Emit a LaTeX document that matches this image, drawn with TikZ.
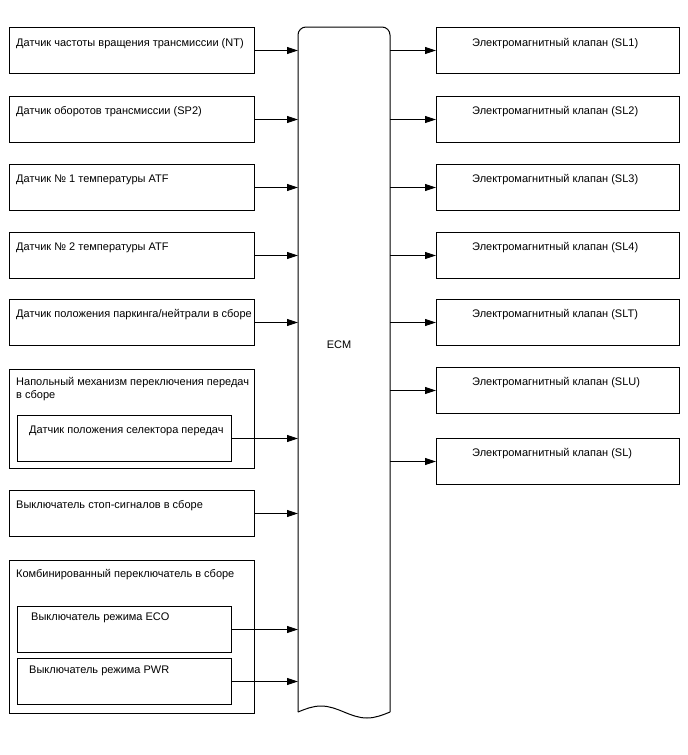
\documentclass[tikz,border=0pt]{standalone}
\usepackage{fontspec}
\setmainfont{Liberation Sans}
\usetikzlibrary{arrows.meta}
\begin{document}
\begin{tikzpicture}[x=1pt,y=-1pt,
  box/.style={draw, line width=1pt, inner sep=0pt, anchor=north west, minimum height=46pt},
  lbox/.style={box, minimum width=245pt},
  rbox/.style={box, minimum width=243pt},
  ibox/.style={box, minimum width=214pt},
  txt/.style={anchor=base west, inner sep=0pt, font=\fontsize{11pt}{12pt}\selectfont},
  arr/.style={draw, line width=1pt, -{Triangle[length=11pt,width=7pt]}}]
\useasboundingbox (0,0) rectangle (688,755);
% ECM
\node[inner sep=0pt, anchor=north west, minimum width=92pt, minimum height=685pt] (ecm) at (298,27) {};
\draw[line width=1pt, rounded corners=8pt] (298,712) -- (298,27) -- (390,27) -- (390,712);
\draw[line width=1pt] (298,712) sin (321,706) cos (344,712) sin (367,718) cos (390,712);
\node[txt, anchor=center] (ecmt) at (339,345) {ECM};
% left inputs
\node[lbox] (s1) at (9,27) {};
\node[txt] (s1t) at (16,46) {Датчик частоты вращения трансмиссии (NT)};
\node[lbox] (s2) at (9,96) {};
\node[txt] (s2t) at (16,114) {Датчик оборотов трансмиссии (SP2)};
\node[lbox] (s3) at (9,164) {};
\node[txt] (s3t) at (16,182) {Датчик № 1 температуры ATF};
\node[lbox] (s4) at (9,232) {};
\node[txt] (s4t) at (16,250) {Датчик № 2 температуры ATF};
\node[lbox] (s5) at (9,299) {};
\node[txt] (s5t) at (16,317) {Датчик положения паркинга/нейтрали в сборе};
\node[lbox, minimum height=99pt] (s6) at (9,369) {};
\node[txt] (s6t) at (16,385) {Напольный механизм переключения передач};
\node[txt] (s6u) at (16,398) {в сборе};
\node[ibox] (s6i) at (17,415) {};
\node[txt] (s6it) at (29,433) {Датчик положения селектора передач};
\node[lbox] (s7) at (9,490) {};
\node[txt] (s7t) at (16,508) {Выключатель стоп-сигналов в сборе};
\node[lbox, minimum height=153pt] (s8) at (9,560) {};
\node[txt] (s8t) at (16,577) {Комбинированный переключатель в сборе};
\node[ibox] (eco) at (17,606) {};
\node[txt] (ecot) at (31,620) {Выключатель режима ECO};
\node[ibox] (pwr) at (17,658) {};
\node[txt] (pwrt) at (29,673) {Выключатель режима PWR};
\foreach \n in {s1,s2,s3,s4,s5,s6i,s7,eco,pwr}
  \draw[arr] (\n.east) -- (\n.east -| ecm.west);
% right outputs
\node[rbox] (v1) at (436,27) {};
\node[txt] (v1t) at (472,46) {Электромагнитный клапан (SL1)};
\node[rbox] (v2) at (436,96) {};
\node[txt] (v2t) at (472,114) {Электромагнитный клапан (SL2)};
\node[rbox] (v3) at (436,164) {};
\node[txt] (v3t) at (472,182) {Электромагнитный клапан (SL3)};
\node[rbox] (v4) at (436,232) {};
\node[txt] (v4t) at (472,250) {Электромагнитный клапан (SL4)};
\node[rbox] (v5) at (436,299) {};
\node[txt] (v5t) at (472,317) {Электромагнитный клапан (SLT)};
\node[rbox] (v6) at (436,367) {};
\node[txt] (v6t) at (472,385) {Электромагнитный клапан (SLU)};
\node[rbox] (v7) at (436,438) {};
\node[txt] (v7t) at (472,456) {Электромагнитный клапан (SL)};
\foreach \n in {v1,v2,v3,v4,v5,v6,v7}
  \draw[arr] (\n.west -| ecm.east) -- (\n.west);
\end{tikzpicture}
\end{document}
